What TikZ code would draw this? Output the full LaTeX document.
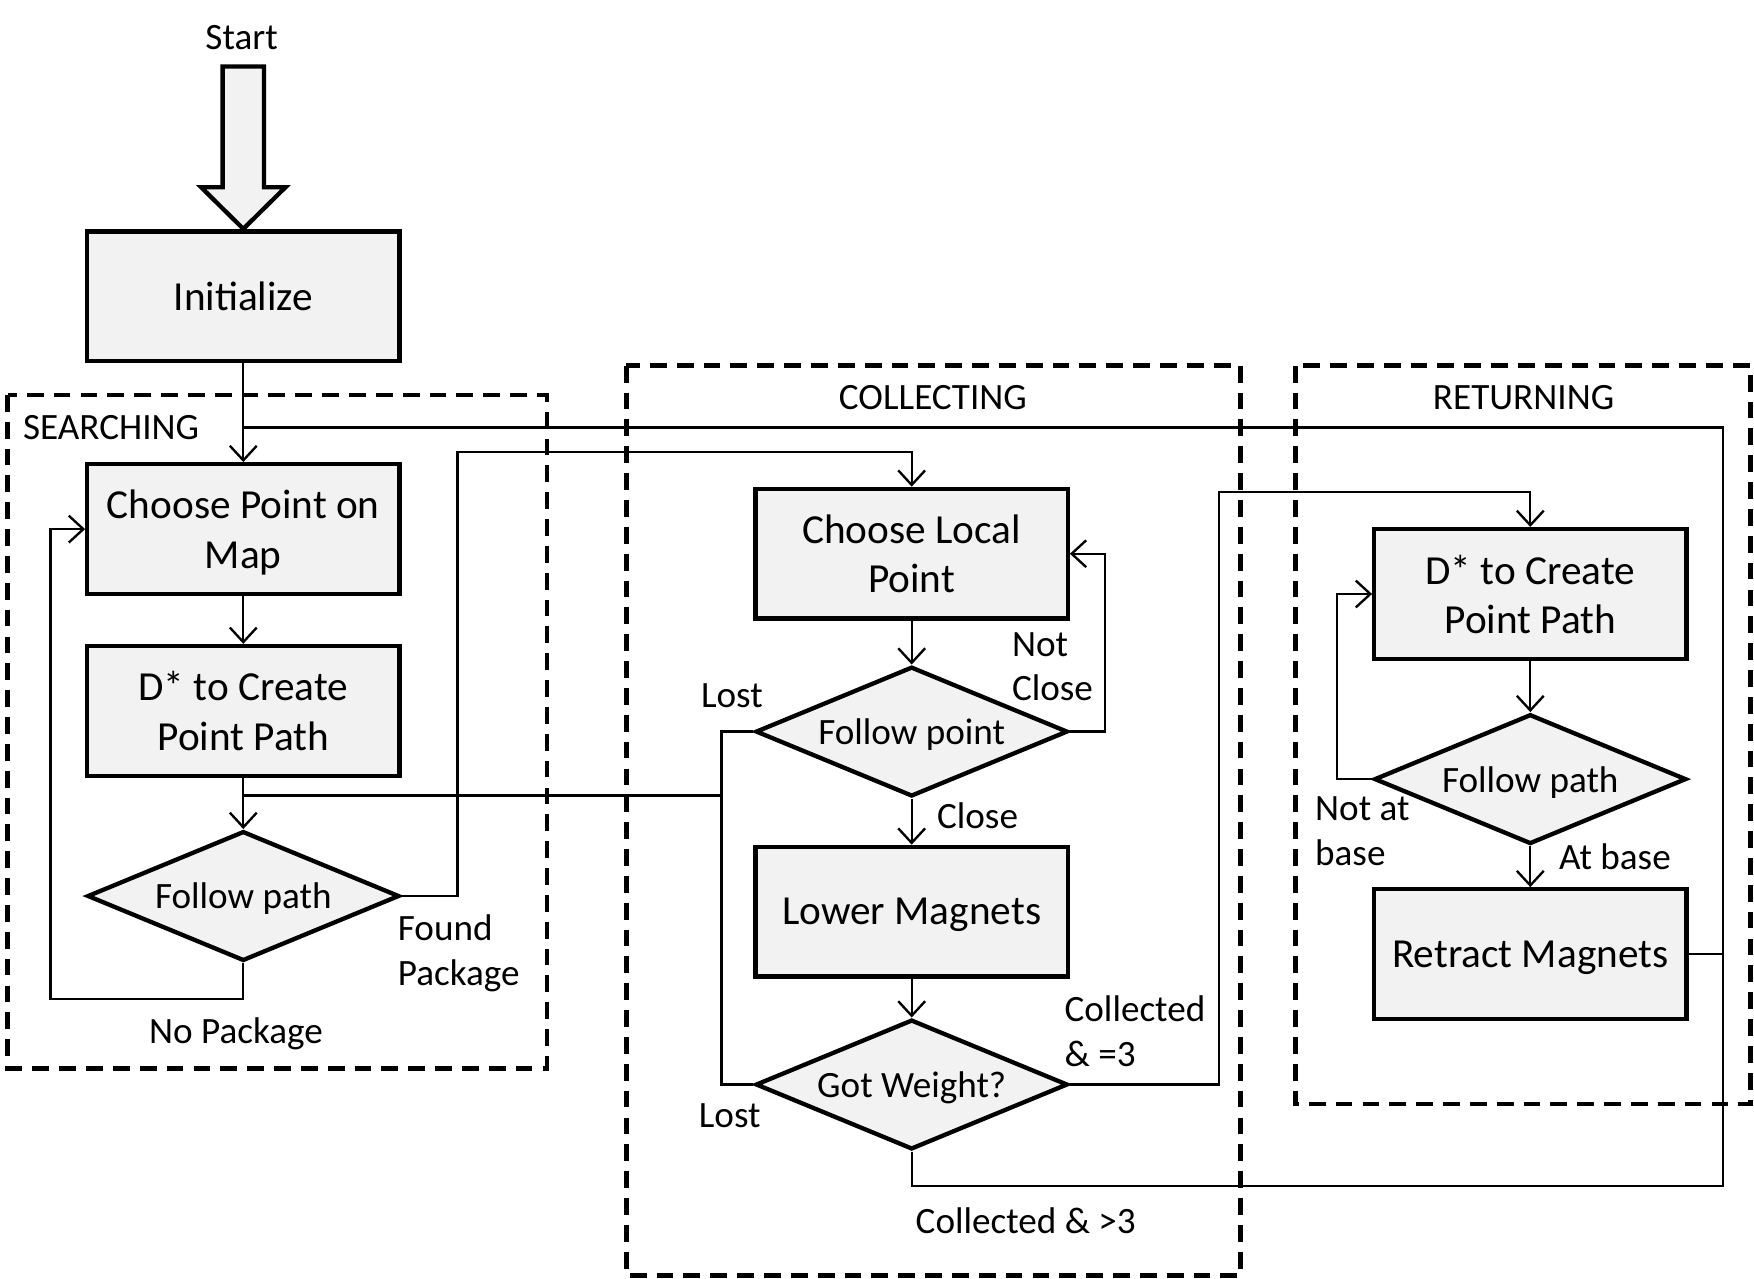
\documentclass[tikz,border=0pt]{standalone}
\usepackage{fontspec}
\setmainfont{Carlito}
\usepackage{tikz}
\usetikzlibrary{shapes.geometric}
\usetikzlibrary{arrows.meta}
\definecolor{boxgray}{HTML}{F2F2F2}
\newcommand{\flowbig}{\fontsize{10.5}{12.5}\selectfont}
\newcommand{\flowsmall}{\fontsize{9.45}{11.4}\selectfont}
\tikzset{
    process/.style={shape=rectangle, draw, fill=boxgray, line width=1.1pt,
        minimum width=2.79cm, minimum height=1.16cm, inner sep=0pt,
        align=center, text depth=0pt, font=\flowbig},
    decision/.style={shape=diamond, draw, fill=boxgray, line width=1.1pt,
        minimum width=2.79cm, minimum height=1.16cm, inner sep=0pt,
        aspect=2.4, text depth=0pt, font=\flowsmall},
    stage/.style={draw, dash pattern=on 1.5mm off 0.9mm, line width=1.2pt},
    tag/.style={font=\flowsmall, inner sep=0pt, align=left},
    line/.style={draw, line width=0.6pt},
    arr/.style={line, -{Straight Barb[length=1.3mm, width=2.4mm, line width=0.6pt]}}
}

\begin{document}
\begin{tikzpicture}
    \useasboundingbox (0,0) rectangle (15.68,-11.43);

    % stages
    \draw[stage] (0.07,-3.53) rectangle (4.89,-9.55);
    \draw[stage] (5.60,-3.27) rectangle (11.09,-11.40);
    \draw[stage] (11.58,-3.27) rectangle (15.65,-9.87);
    \node[tag, anchor=west] (searching) at (0.20,-3.82) {SEARCHING};
    \node[tag] (collecting) at (8.34,-3.55) {COLLECTING};
    \node[tag] (returning) at (13.62,-3.55) {RETURNING};

    % start
    \node[tag] (start) at (2.16,-0.336) {Start};
    \draw[line width=1.1pt, fill=boxgray] (1.99,-0.595) -- (2.36,-0.595) -- (2.36,-1.674) -- (2.552,-1.674)
        -- (2.175,-2.046) -- (1.798,-1.674) -- (1.99,-1.674) -- cycle;

    % searching
    \node[process] (init) at (2.175,-2.65) {Initialize};
    \node[process] (choosemap) at (2.175,-4.73) {Choose Point on\\Map};
    \node[process] (dstarS) at (2.175,-6.355) {D* to Create\\Point Path};
    \node[decision] (followS) at (2.175,-8.01) {Follow path};

    % collecting
    \node[process] (chooselocal) at (8.15,-4.95) {Choose Local\\Point};
    \node[decision] (followpt) at (8.15,-6.54) {Follow point};
    \node[process] (lower) at (8.15,-8.15) {Lower Magnets};
    \node[decision] (gotweight) at (8.15,-9.695) {Got Weight?};

    % returning
    \node[process] (dstarR) at (13.68,-5.31) {D* to Create\\Point Path};
    \node[decision] (followR) at (13.68,-6.965) {Follow path};
    \node[process] (retract) at (13.68,-8.53) {Retract Magnets};

    % bends
    \coordinate (j1) at (2.175,-3.82);
    \coordinate (j2) at (2.175,-7.11);
    \coordinate (nopkg) at (0.45,-8.93);
    \coordinate (found) at (4.09,-4.04);
    \coordinate (notclose) at (9.88,-4.95);
    \coordinate (lostA) at (6.45,-7.11);
    \coordinate (eq3) at (10.90,-4.40);
    \coordinate (notbase) at (11.95,-5.31);
    \coordinate (gt3) at (15.40,-10.60);
    \coordinate (back) at (15.40,-3.82);

    \draw[arr] (init.south) -- (choosemap.north);
    \draw[arr] (choosemap.south) -- (dstarS.north);
    \draw[arr] (dstarS.south) -- (followS.north);
    \draw[arr] (followS.south) |- (nopkg) |- (choosemap.west);
    \draw[arr] (followS.east) -| (found) -| (chooselocal.north);

    \draw[arr] (chooselocal.south) -- (followpt.north);
    \draw[arr] (followpt.east) -| (notclose) -- (chooselocal.east);
    \draw[arr] (followpt.south) -- (lower.north);
    \draw[arr] (lower.south) -- (gotweight.north);
    \draw[line] (followpt.west) -| (lostA);
    \draw[line] (gotweight.west) -| (lostA);
    \draw[line] (lostA) -- (j2);
    \draw[arr] (gotweight.east) -| (eq3) -| (dstarR.north);
    \draw[line] (gotweight.south) |- (gt3) -- (back) -- (j1);

    \draw[arr] (dstarR.south) -- (followR.north);
    \draw[arr] (followR.west) -| (notbase) -- (dstarR.west);
    \draw[arr] (followR.south) -- (retract.north);
    \draw[line] (retract.east) -- (retract.east -| back);

    % branch labels
    \node[tag] (nopkgtxt) at (2.11,-9.24) {No Package};
    \node[tag, anchor=west] (foundtxt) at (3.55,-8.52) {Found\\Package};
    \node[tag, anchor=west] (lost1) at (6.26,-6.22) {Lost};
    \node[tag, anchor=west] (lost2) at (6.24,-9.97) {Lost};
    \node[tag, anchor=west] (notclosetxt) at (9.04,-5.96) {Not\\Close};
    \node[tag, anchor=west] (closetxt) at (8.37,-7.29) {Close};
    \node[tag, anchor=west] (eq3txt) at (9.51,-9.22) {Collected\\\& =3};
    \node[tag] (gt3txt) at (9.17,-10.91) {Collected \& >3};
    \node[tag, anchor=west] (notbasetxt) at (11.75,-7.43) {Not at\\base};
    \node[tag, anchor=west] (atbasetxt) at (13.93,-7.66) {At base};

\end{tikzpicture}
\end{document}
